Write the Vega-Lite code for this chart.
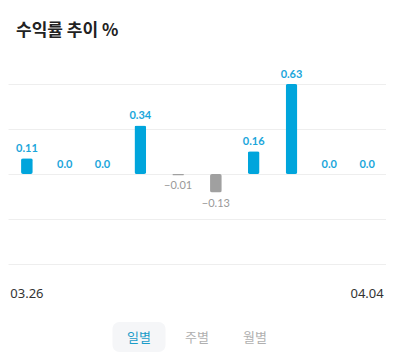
{
  "$schema": "https://vega.github.io/schema/vega-lite/v6.json",
  "background": "white",
  "padding": {"left": 8, "top": 22, "right": 0, "bottom": 0},
  "config": {"view": {"stroke": null}, "concat": {"spacing": 22}},
  "center": true,
  "vconcat": [
    {
      "title": {"text": "수익률 추이 %", "anchor": "start", "font": "Noto Sans CJK KR", "fontSize": 17, "fontWeight": "bold", "color": "#222222", "dx": 8, "offset": 29, "frame": "group"},
      "width": 378,
      "height": 180,
      "data": {"values": [
        {"d": "03.26", "v": 0.11},
        {"d": "03.27", "v": 0.0},
        {"d": "03.28", "v": 0.0},
        {"d": "03.29", "v": 0.34},
        {"d": "03.30", "v": -0.01},
        {"d": "03.31", "v": -0.13},
        {"d": "04.01", "v": 0.16},
        {"d": "04.02", "v": 0.63},
        {"d": "04.03", "v": 0.0},
        {"d": "04.04", "v": 0.0}
      ]},
      "transform": [{"calculate": "datum.v == 0 ? '0.0' : format(datum.v, '.2f')", "as": "label"}],
      "encoding": {
        "x": {"field": "d", "type": "ordinal", "sort": null, "title": null,
          "scale": {"paddingInner": 0.69, "paddingOuter": 0.345},
          "axis": {"domain": false, "ticks": false, "grid": false, "labelAngle": 0, "labelPadding": 23,
            "labelExpr": "datum.label == '03.26' || datum.label == '04.04' ? datum.label : ''",
            "labelFont": "Noto Sans", "labelFontSize": 13, "labelFontWeight": "normal", "labelColor": "#333333"}},
        "y": {"field": "v", "type": "quantitative", "title": null,
          "scale": {"domain": [-0.63, 0.63], "nice": false},
          "axis": {"values": [-0.63, -0.315, 0, 0.315, 0.63], "labels": false, "ticks": false, "domain": false, "grid": true, "gridColor": "#eeeeee", "gridWidth": 1}}
      },
      "layer": [
        {
          "mark": {"type": "bar", "cornerRadius": 2},
          "encoding": {"color": {"condition": {"test": "datum.v < 0", "value": "#a0a0a0"}, "value": "#00a5dc"}}
        },
        {
          "transform": [{"filter": "datum.v >= 0"}],
          "mark": {"type": "text", "baseline": "bottom", "dy": -4, "font": "Lato", "fontSize": 11, "fontWeight": "bold", "color": "#1aa6db"},
          "encoding": {"text": {"field": "label"}}
        },
        {
          "transform": [{"filter": "datum.v < 0"}],
          "mark": {"type": "text", "baseline": "top", "dy": 5, "font": "Lato", "fontSize": 11, "color": "#999999"},
          "encoding": {"text": {"field": "label"}}
        }
      ]
    },
    {
      "width": 174,
      "height": 30,
      "data": {"values": [
        {"t": "일별", "sel": true},
        {"t": "주별", "sel": false},
        {"t": "월별", "sel": false}
      ]},
      "encoding": {"x": {"field": "t", "type": "nominal", "sort": null, "axis": null, "scale": {"paddingInner": 0, "paddingOuter": 0}}},
      "layer": [
        {
          "transform": [{"filter": "datum.sel"}],
          "mark": {"type": "bar", "width": 53, "cornerRadius": 7, "color": "#f5f6f8"},
          "encoding": {}
        },
        {
          "mark": {"type": "text", "font": "Noto Sans CJK KR", "fontSize": 13, "dy": 1},
          "encoding": {
            "text": {"field": "t"},
            "color": {"condition": {"test": "datum.sel", "value": "#1a9cc8"}, "value": "#b0b0b0"},
            "fontWeight": {"condition": {"test": "datum.sel", "value": "bold"}, "value": "normal"}
          }
        }
      ]
    }
  ]
}
